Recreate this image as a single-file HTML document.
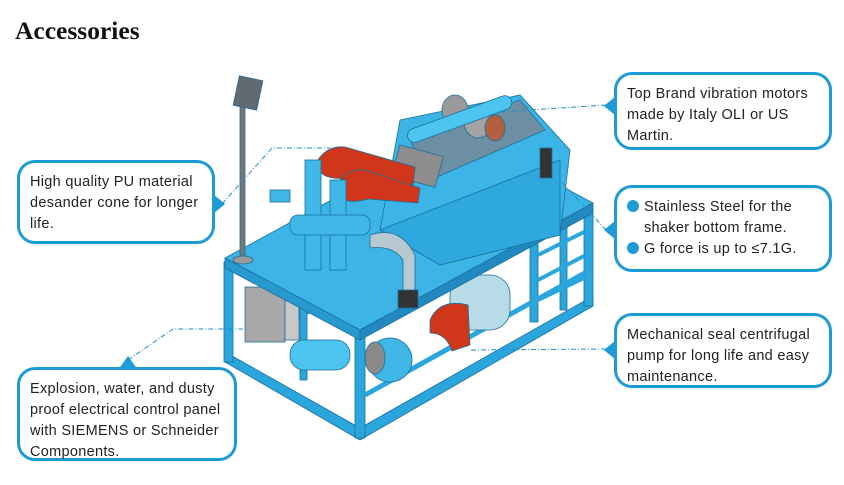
<!DOCTYPE html>
<html><head><meta charset="utf-8"><style>
body{margin:0;background:#fff;width:844px;height:485px;overflow:hidden;position:relative;font-family:"Liberation Sans",sans-serif}
h1{position:absolute;left:15px;top:16px;margin:0;font:bold 25.5px "Liberation Serif",serif;color:#111}
.c{position:absolute;border:3px solid #1e9bd7;border-radius:18px;background:#fff;box-sizing:border-box;font-size:14.5px;line-height:21px;color:#222;padding:9px 10px;letter-spacing:0.3px}
.b{display:inline-block;width:12px;height:12px;border-radius:50%;background:#1e9bd7;margin-right:5px;vertical-align:-1px}
</style></head><body>
<h1>Accessories</h1>
<svg width="844" height="485" style="position:absolute;left:0;top:0">
<g stroke="#1b6f9c" stroke-width="0.8">
<polygon points="225,352 360,428 593,296 593,306 360,440 225,362" fill="#2aa6dc"/>
<polygon points="250,330 458,220 470,228 262,338" fill="#3fb8e8"/>
<rect x="224" y="262" width="9" height="100" fill="#2aa6dc"/>
<rect x="355" y="334" width="10" height="104" fill="#2aa6dc"/>
<rect x="584" y="208" width="9" height="98" fill="#2aa6dc"/>
<rect x="300" y="295" width="7" height="85" fill="#2aa6dc"/>
<rect x="530" y="232" width="8" height="90" fill="#2aa6dc"/>
<rect x="560" y="220" width="7" height="90" fill="#2aa6dc"/>
<line x1="538" y1="255" x2="584" y2="232" stroke="#2aa6dc" stroke-width="4"/>
<line x1="538" y1="280" x2="584" y2="256" stroke="#2aa6dc" stroke-width="4"/>
<line x1="538" y1="300" x2="584" y2="278" stroke="#2aa6dc" stroke-width="4"/>
<line x1="365" y1="395" x2="590" y2="270" stroke="#2aa6dc" stroke-width="5"/>
<rect x="290" y="340" width="60" height="30" rx="14" fill="#4cc4f0"/>
<ellipse cx="390" cy="360" rx="22" ry="22" fill="#3fb8e8"/>
<ellipse cx="375" cy="358" rx="10" ry="16" fill="#8a8a8a"/>
<rect x="450" y="275" width="60" height="55" rx="20" fill="#b8dbe8"/>
<path d="M430,320 q10,-22 38,-15 l2,40 l-18,6 q-6,-18 -22,-18z" fill="#d0371a"/>
<rect x="245" y="287" width="40" height="55" fill="#a8a8a8"/>
<rect x="285" y="295" width="14" height="45" fill="#c8c8c8"/>
<polygon points="225,258 458,131 593,203 360,330" fill="#3cb5e6"/>
<polygon points="225,258 360,330 360,340 225,268" fill="#2699cf"/>
<polygon points="360,330 593,203 593,213 360,340" fill="#2189c0"/>
<polygon points="400,120 520,95 570,150 560,235 440,265 380,230" fill="#3cb5e6"/>
<polygon points="380,230 560,160 560,235 440,265" fill="#2ea8de"/>
<polygon points="410,140 520,100 545,130 430,180" fill="#6d8fa3"/>
<ellipse cx="455" cy="110" rx="13" ry="15" fill="#9a9a9a"/>
<ellipse cx="478" cy="122" rx="14" ry="16" fill="#a3a3a3"/>
<ellipse cx="495" cy="128" rx="10" ry="13" fill="#b06040"/>
<rect x="405" y="112" width="110" height="14" rx="7" fill="#4cc4f0" transform="rotate(-20 460 120)"/>
<rect x="540" y="148" width="12" height="30" fill="#333"/>
<rect x="395" y="150" width="45" height="32" fill="#8d8d8d" transform="rotate(15 417 166)"/>
<path d="M315,165 q10,-20 30,-18 l70,20 l-2,18 l-60,-8 q-30,6 -38,-12z" fill="#d0371a"/>
<path d="M335,188 q10,-20 30,-18 l55,18 l-2,15 l-50,-4 q-28,8 -33,-11z" fill="#d0371a"/>
<rect x="305" y="160" width="16" height="110" fill="#3fb8e8"/>
<rect x="330" y="180" width="16" height="90" fill="#3fb8e8"/>
<rect x="290" y="215" width="80" height="20" rx="8" fill="#3fb8e8"/>
<rect x="270" y="190" width="20" height="12" fill="#3fb8e8"/>
<path d="M370,235 q30,-10 45,20 l0,40 l-12,0 l0,-35 q-10,-15 -33,-12z" fill="#b8c8d0"/>
<rect x="398" y="290" width="20" height="18" fill="#333"/>
<rect x="240" y="95" width="5" height="165" fill="#777"/>
<rect x="236" y="78" width="24" height="30" fill="#606a70" transform="rotate(12 248 93)"/>
<ellipse cx="243" cy="260" rx="10" ry="4" fill="#999"/>
</g>
<g stroke="#1e8fc7" stroke-width="1" stroke-dasharray="5,2,1,2" fill="none">
<polyline points="222,204 272,148 330,148"/>
<polyline points="606,105 500,112"/>
<polyline points="606,230 560,180"/>
<polyline points="606,349 470,350"/>
<polyline points="128,360 173,329 243,329"/>
</g>
<g fill="#1e9bd7">
<polygon points="213,194 225,204 213,214"/>
<polygon points="616,96 604,106 616,116"/>
<polygon points="616,220 604,230 616,240"/>
<polygon points="616,340 604,350 616,360"/>
<polygon points="118,370 128,356 138,370"/>
</g>
</svg>
<div class="c" style="left:17px;top:160px;width:198px;height:84px">High quality PU material desander cone for longer life.</div>
<div class="c" style="left:614px;top:72px;width:218px;height:78px">Top Brand vibration motors made by Italy OLI or US Martin.</div>
<div class="c" style="left:614px;top:185px;width:218px;height:87px"><span class="b"></span>Stainless Steel for the<br><span style="padding-left:17px">shaker bottom frame.</span><br><span class="b"></span>G force is up to ≤7.1G.</div>
<div class="c" style="left:614px;top:313px;width:218px;height:75px">Mechanical seal centrifugal pump for long life and easy maintenance.</div>
<div class="c" style="left:17px;top:367px;width:220px;height:94px">Explosion, water, and dusty proof electrical control panel with SIEMENS or Schneider Components.</div>
</body></html>
